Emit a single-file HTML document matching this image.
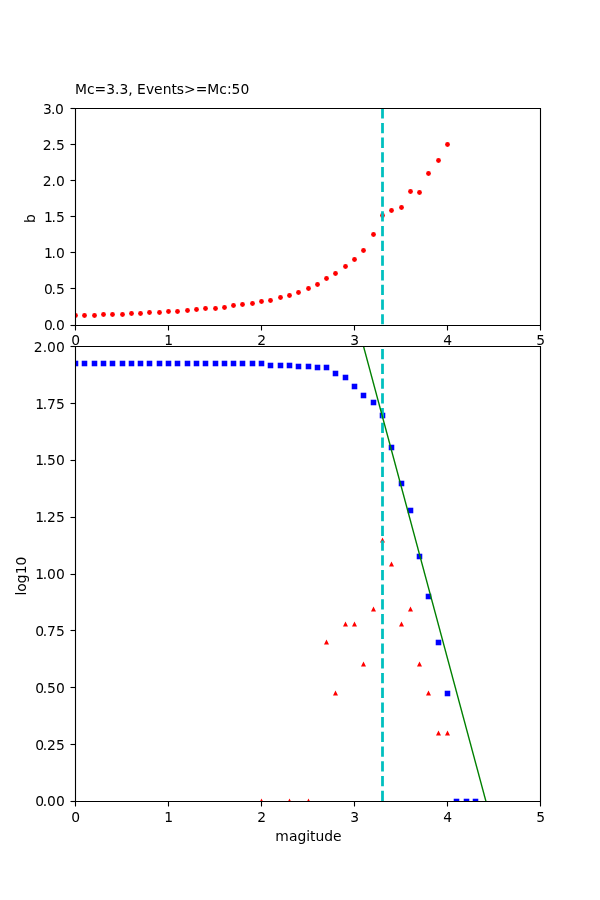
<!DOCTYPE html>
<html lang="en"><head><meta charset="utf-8"><title>b-value plot</title>
<style>html,body{margin:0;padding:0;background:#fff}body{width:600px;height:900px;overflow:hidden}svg{display:block}text{font-family:"DejaVu Sans","Liberation Sans",sans-serif;font-size:13.889px;fill:#000}</style></head><body>
<svg width="600" height="900" viewBox="0 0 600 900">
<rect width="600" height="900" fill="#fff"/>
<defs><clipPath id="c1"><rect x="75" y="108" width="465" height="216.562"/></clipPath>
<clipPath id="c2"><rect x="75" y="346.219" width="465" height="454.781"/></clipPath></defs>
<g clip-path="url(#c1)">
<g fill="#f00">
<circle cx="75.5" cy="315.5" r="2.4"/>
<circle cx="84.5" cy="315.5" r="2.4"/>
<circle cx="94.5" cy="315.5" r="2.4"/>
<circle cx="103.5" cy="314.5" r="2.4"/>
<circle cx="112.5" cy="314.5" r="2.4"/>
<circle cx="122.5" cy="314.5" r="2.4"/>
<circle cx="131.5" cy="313.5" r="2.4"/>
<circle cx="140.5" cy="313.5" r="2.4"/>
<circle cx="149.5" cy="312.5" r="2.4"/>
<circle cx="159.5" cy="312.5" r="2.4"/>
<circle cx="168.5" cy="311.5" r="2.4"/>
<circle cx="177.5" cy="311.5" r="2.4"/>
<circle cx="187.5" cy="310.5" r="2.4"/>
<circle cx="196.5" cy="309.5" r="2.4"/>
<circle cx="205.5" cy="308.5" r="2.4"/>
<circle cx="215.5" cy="308.5" r="2.4"/>
<circle cx="224.5" cy="307.5" r="2.4"/>
<circle cx="233.5" cy="305.5" r="2.4"/>
<circle cx="242.5" cy="304.5" r="2.4"/>
<circle cx="252.5" cy="303.5" r="2.4"/>
<circle cx="261.5" cy="301.5" r="2.4"/>
<circle cx="270.5" cy="300.5" r="2.4"/>
<circle cx="280.5" cy="297.5" r="2.4"/>
<circle cx="289.5" cy="295.5" r="2.4"/>
<circle cx="298.5" cy="292.5" r="2.4"/>
<circle cx="308.5" cy="288.5" r="2.4"/>
<circle cx="317.5" cy="284.5" r="2.4"/>
<circle cx="326.5" cy="278.5" r="2.4"/>
<circle cx="335.5" cy="273.5" r="2.4"/>
<circle cx="345.5" cy="266.5" r="2.4"/>
<circle cx="354.5" cy="259.5" r="2.4"/>
<circle cx="363.5" cy="250.5" r="2.4"/>
<circle cx="373.5" cy="234.5" r="2.4"/>
<circle cx="382.5" cy="215.5" r="2.4"/>
<circle cx="391.5" cy="210.5" r="2.4"/>
<circle cx="401.5" cy="207.5" r="2.4"/>
<circle cx="410.5" cy="191.5" r="2.4"/>
<circle cx="419.5" cy="192.5" r="2.4"/>
<circle cx="428.5" cy="173.5" r="2.4"/>
<circle cx="438.5" cy="160.5" r="2.4"/>
<circle cx="447.5" cy="144.5" r="2.4"/>
</g>
<path d="M382.50 324.562V108.000" stroke="#00bfbf" stroke-width="2.778" stroke-dasharray="10.278 4.444" fill="none"/>
</g>
<g clip-path="url(#c2)">
<g fill="#f00" stroke="#f00" stroke-width="1.389" stroke-linejoin="miter">
<path d="M261.50 800.11L260.11 802.89L262.89 802.89Z"/>
<path d="M289.50 800.11L288.11 802.89L290.89 802.89Z"/>
<path d="M308.50 800.11L307.11 802.89L309.89 802.89Z"/>
<path d="M326.50 641.11L325.11 643.89L327.89 643.89Z"/>
<path d="M335.50 692.11L334.11 694.89L336.89 694.89Z"/>
<path d="M345.50 623.11L344.11 625.89L346.89 625.89Z"/>
<path d="M354.50 623.11L353.11 625.89L355.89 625.89Z"/>
<path d="M363.50 663.11L362.11 665.89L364.89 665.89Z"/>
<path d="M373.50 608.11L372.11 610.89L374.89 610.89Z"/>
<path d="M382.50 539.11L381.11 541.89L383.89 541.89Z"/>
<path d="M391.50 563.11L390.11 565.89L392.89 565.89Z"/>
<path d="M401.50 623.11L400.11 625.89L402.89 625.89Z"/>
<path d="M410.50 608.11L409.11 610.89L411.89 610.89Z"/>
<path d="M419.50 663.11L418.11 665.89L420.89 665.89Z"/>
<path d="M428.50 692.11L427.11 694.89L429.89 694.89Z"/>
<path d="M438.50 732.11L437.11 734.89L439.89 734.89Z"/>
<path d="M447.50 732.11L446.11 734.89L448.89 734.89Z"/>
</g>
<g fill="#00f">
<rect x="72.72" y="360.72" width="5.556" height="5.556"/>
<rect x="81.72" y="360.72" width="5.556" height="5.556"/>
<rect x="91.72" y="360.72" width="5.556" height="5.556"/>
<rect x="100.72" y="360.72" width="5.556" height="5.556"/>
<rect x="109.72" y="360.72" width="5.556" height="5.556"/>
<rect x="119.72" y="360.72" width="5.556" height="5.556"/>
<rect x="128.72" y="360.72" width="5.556" height="5.556"/>
<rect x="137.72" y="360.72" width="5.556" height="5.556"/>
<rect x="146.72" y="360.72" width="5.556" height="5.556"/>
<rect x="156.72" y="360.72" width="5.556" height="5.556"/>
<rect x="165.72" y="360.72" width="5.556" height="5.556"/>
<rect x="174.72" y="360.72" width="5.556" height="5.556"/>
<rect x="184.72" y="360.72" width="5.556" height="5.556"/>
<rect x="193.72" y="360.72" width="5.556" height="5.556"/>
<rect x="202.72" y="360.72" width="5.556" height="5.556"/>
<rect x="212.72" y="360.72" width="5.556" height="5.556"/>
<rect x="221.72" y="360.72" width="5.556" height="5.556"/>
<rect x="230.72" y="360.72" width="5.556" height="5.556"/>
<rect x="239.72" y="360.72" width="5.556" height="5.556"/>
<rect x="249.72" y="360.72" width="5.556" height="5.556"/>
<rect x="258.72" y="360.72" width="5.556" height="5.556"/>
<rect x="267.72" y="362.72" width="5.556" height="5.556"/>
<rect x="277.72" y="362.72" width="5.556" height="5.556"/>
<rect x="286.72" y="362.72" width="5.556" height="5.556"/>
<rect x="295.72" y="363.72" width="5.556" height="5.556"/>
<rect x="305.72" y="363.72" width="5.556" height="5.556"/>
<rect x="314.72" y="364.72" width="5.556" height="5.556"/>
<rect x="323.72" y="364.72" width="5.556" height="5.556"/>
<rect x="332.72" y="370.72" width="5.556" height="5.556"/>
<rect x="342.72" y="374.72" width="5.556" height="5.556"/>
<rect x="351.72" y="383.72" width="5.556" height="5.556"/>
<rect x="360.72" y="392.72" width="5.556" height="5.556"/>
<rect x="370.72" y="399.72" width="5.556" height="5.556"/>
<rect x="379.72" y="412.72" width="5.556" height="5.556"/>
<rect x="388.72" y="444.72" width="5.556" height="5.556"/>
<rect x="398.72" y="480.72" width="5.556" height="5.556"/>
<rect x="407.72" y="507.72" width="5.556" height="5.556"/>
<rect x="416.72" y="553.72" width="5.556" height="5.556"/>
<rect x="425.72" y="593.72" width="5.556" height="5.556"/>
<rect x="435.72" y="639.72" width="5.556" height="5.556"/>
<rect x="444.72" y="690.72" width="5.556" height="5.556"/>
<rect x="453.72" y="798.72" width="5.556" height="5.556"/>
<rect x="463.72" y="798.72" width="5.556" height="5.556"/>
<rect x="472.72" y="798.72" width="5.556" height="5.556"/>
</g>
<path d="M382.50 801.000V346.219" stroke="#00bfbf" stroke-width="2.778" stroke-dasharray="10.278 4.444" fill="none"/>
<path d="M344.70 276.42L502.80 863.99" stroke="#008000" stroke-width="1.389" fill="none"/>
</g>
<g stroke="#000" stroke-width="1.111" fill="none">
<path d="M75.5 325.5v5"/>
<path d="M168.5 325.5v5"/>
<path d="M261.5 325.5v5"/>
<path d="M354.5 325.5v5"/>
<path d="M447.5 325.5v5"/>
<path d="M540.5 325.5v5"/>
<path d="M75.5 325.5h-5"/>
<path d="M75.5 288.5h-5"/>
<path d="M75.5 252.5h-5"/>
<path d="M75.5 216.5h-5"/>
<path d="M75.5 180.5h-5"/>
<path d="M75.5 144.5h-5"/>
<path d="M75.5 108.5h-5"/>
<path d="M75.5 108.5H540.5V325.5H75.5Z" stroke-linejoin="miter" stroke-linecap="square"/>
</g>
<text x="75.60" y="345.0" text-anchor="middle">0</text>
<text x="168.60" y="345.0" text-anchor="middle">1</text>
<text x="261.60" y="345.0" text-anchor="middle">2</text>
<text x="354.60" y="345.0" text-anchor="middle">3</text>
<text x="447.60" y="345.0" text-anchor="middle">4</text>
<text x="540.60" y="345.0" text-anchor="middle">5</text>
<text x="64.78" y="330" text-anchor="end">0<tspan dx="-1.3">.0</tspan></text>
<text x="64.78" y="294" text-anchor="end">0<tspan dx="-1.3">.5</tspan></text>
<text x="64.78" y="258" text-anchor="end">1<tspan dx="-1.3">.0</tspan></text>
<text x="64.78" y="222" text-anchor="end">1<tspan dx="-1.3">.5</tspan></text>
<text x="64.78" y="186" text-anchor="end">2.0</text>
<text x="64.78" y="150" text-anchor="end">2.5</text>
<text x="63.88" y="114" text-anchor="end">3<tspan dx="-0.9">.</tspan><tspan dx="-0.3">0</tspan></text>
<g stroke="#000" stroke-width="1.111" fill="none">
<path d="M75.5 801.5v5"/>
<path d="M168.5 801.5v5"/>
<path d="M261.5 801.5v5"/>
<path d="M354.5 801.5v5"/>
<path d="M447.5 801.5v5"/>
<path d="M540.5 801.5v5"/>
<path d="M75.5 801.5h-5"/>
<path d="M75.5 744.5h-5"/>
<path d="M75.5 687.5h-5"/>
<path d="M75.5 630.5h-5"/>
<path d="M75.5 574.5h-5"/>
<path d="M75.5 517.5h-5"/>
<path d="M75.5 460.5h-5"/>
<path d="M75.5 403.5h-5"/>
<path d="M75.5 346.5h-5"/>
<path d="M75.5 346.5H540.5V801.5H75.5Z" stroke-linejoin="miter" stroke-linecap="square"/>
</g>
<text x="75.60" y="822.0" text-anchor="middle">0</text>
<text x="168.60" y="822.0" text-anchor="middle">1</text>
<text x="261.60" y="822.0" text-anchor="middle">2</text>
<text x="354.60" y="822.0" text-anchor="middle">3</text>
<text x="447.60" y="822.0" text-anchor="middle">4</text>
<text x="540.60" y="822.0" text-anchor="middle">5</text>
<text x="64.78" y="806" text-anchor="end">0<tspan dx="-1.3">.00</tspan></text>
<text x="64.78" y="750" text-anchor="end">0<tspan dx="-1.3">.25</tspan></text>
<text x="64.78" y="693" text-anchor="end">0<tspan dx="-1.3">.50</tspan></text>
<text x="64.78" y="636" text-anchor="end">0<tspan dx="-1.3">.75</tspan></text>
<text x="64.78" y="579" text-anchor="end">1<tspan dx="-1.3">.00</tspan></text>
<text x="64.78" y="522" text-anchor="end">1<tspan dx="-1.3">.25</tspan></text>
<text x="64.78" y="465" text-anchor="end">1<tspan dx="-1.3">.50</tspan></text>
<text x="64.78" y="409" text-anchor="end">1<tspan dx="-1.3">.75</tspan></text>
<text x="64.78" y="352" text-anchor="end">2.00</text>
<text x="75.00" y="94.0">Mc=3.3, Events&gt;=Mc:50</text>
<text transform="translate(35 223) rotate(-90)">b</text>
<text transform="translate(26 595.5) rotate(-90)">log10</text>
<text x="308.50" y="841.0" text-anchor="middle">magitude</text>
</svg></body></html>
